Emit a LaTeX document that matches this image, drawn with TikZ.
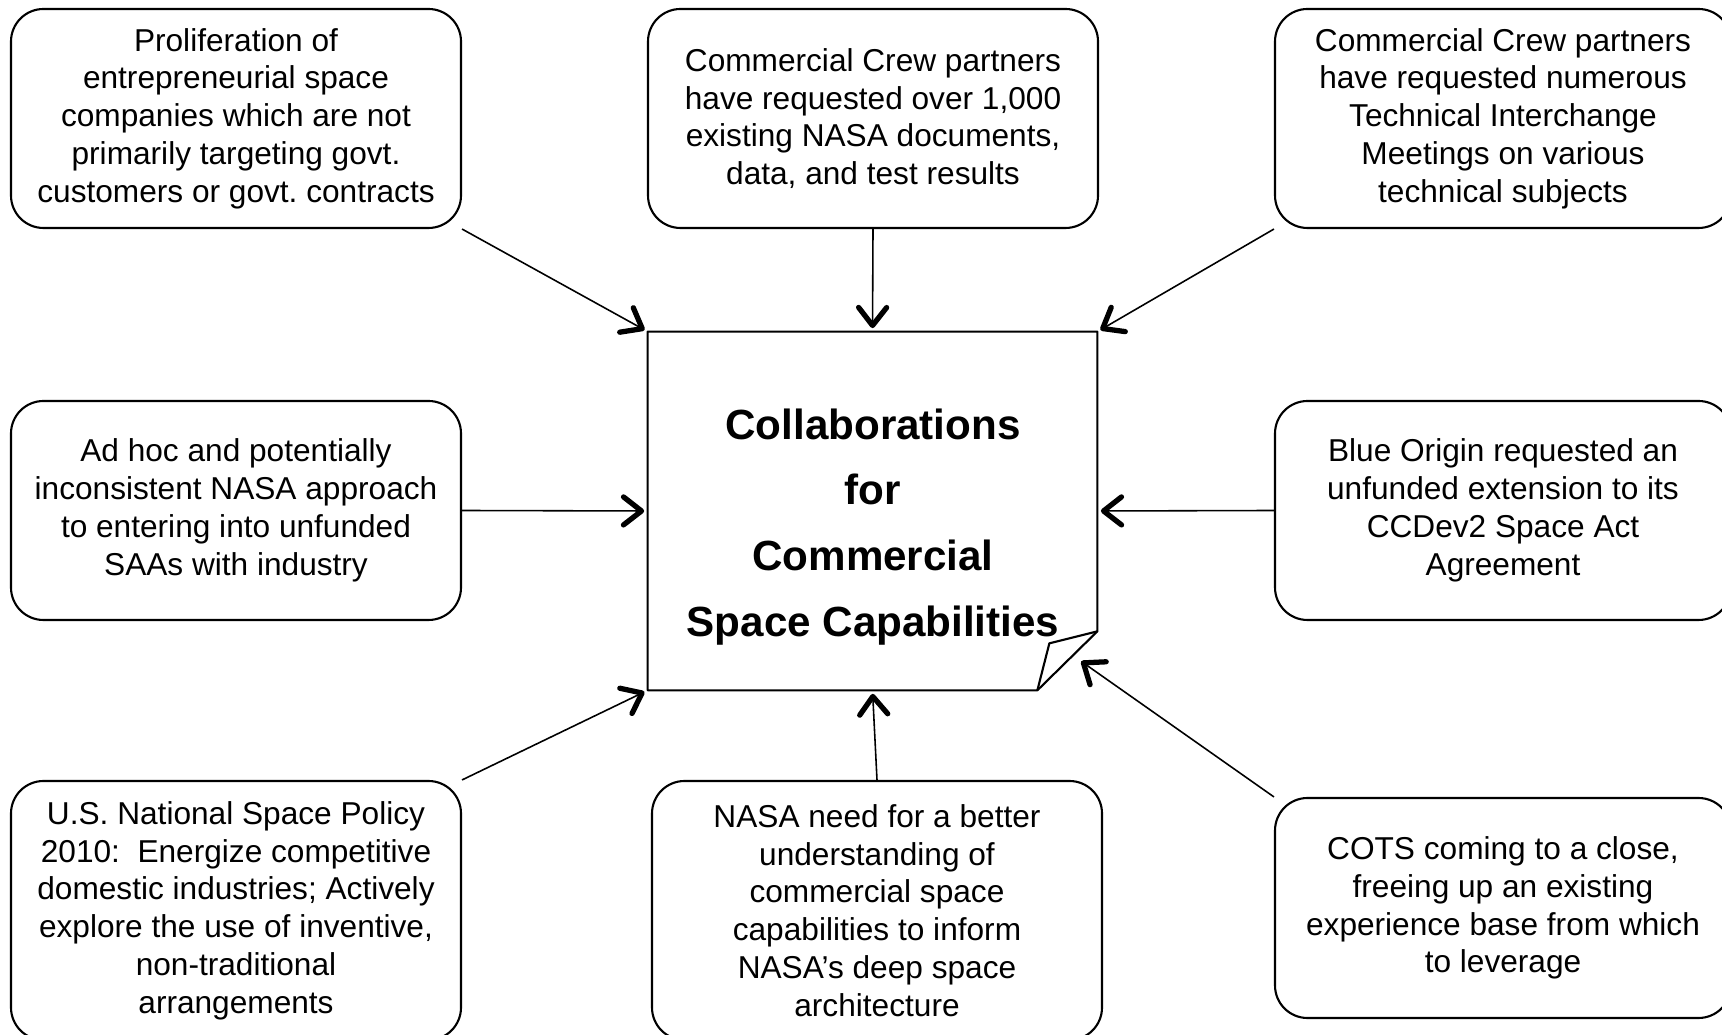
\documentclass[tikz,border=0pt]{standalone}
\usepackage{fontspec}
\setmainfont{Liberation Sans}
\usetikzlibrary{arrows.meta}
\frenchspacing

\begin{document}
\begin{tikzpicture}[
    box/.style={draw, rounded corners=0.65cm, line width=1.2pt, minimum width=9cm,
        minimum height=4.38cm, align=center, font=\fontsize{18}{21.5}\selectfont},
    wide/.style={box, minimum width=9.12cm},
    core/.style={minimum width=8.98cm, minimum height=7.16cm, inner sep=0pt},
    title/.style={align=center, font=\fontsize{24}{37.5}\selectfont\bfseries},
    sheet/.style={line width=1.2pt, line join=round},
    feed/.style={line width=0.9pt, shorten >=2pt,
        -{Straight Barb[length=0.36cm, width=0.56cm, line width=3pt, round]}}
]
    \useasboundingbox (0,0) rectangle (34.44,20.70);
    % nodes
    \node[core] (core) at (17.45,10.48) {};
    \node[title] (title) at (17.46,10.16) {Collaborations\\for\\Commercial\\Space Capabilities};
    \node[box] (tl) at (4.72,18.33) {Proliferation of\\entrepreneurial space\\companies which are not\\primarily targeting govt.\\customers or govt. contracts};
    \node[box] (tc) at (17.46,18.33) {Commercial Crew partners\\have requested over 1,000\\existing NASA documents,\\data, and test results};
    \node[wide] (tr) at (30.06,18.33) {Commercial Crew partners\\have requested numerous\\Technical Interchange\\Meetings on various\\technical subjects};
    \node[box] (ml) at (4.72,10.49) {Ad hoc and potentially\\inconsistent NASA approach\\to entering into unfunded\\SAAs with industry};
    \node[wide] (mr) at (30.06,10.49) {Blue Origin requested an\\unfunded extension to its\\CCDev2 Space Act\\Agreement};
    \node[box, minimum height=5.18cm] (bl) at (4.72,2.49) {U.S. National Space Policy\\2010:~ Energize competitive\\domestic industries; Actively\\explore the use of inventive,\\non-traditional\\arrangements};
    \node[box, minimum height=5.18cm] (bc) at (17.54,2.49) {NASA need for a better\\understanding of\\commercial space\\capabilities to inform\\NASA’s deep space\\architecture};
    \node[wide, minimum height=4.4cm] (br) at (30.06,2.54) {COTS coming to a close,\\freeing up an existing\\experience base from which\\to leverage};
    % folded sheet
    \draw[sheet] (core.north west) -- (core.north east) -- ([yshift=1.18cm]core.south east)
        -- ([xshift=-1.2cm]core.south east) -- (core.south west) -- cycle;
    \draw[sheet] ([yshift=1.18cm]core.south east) -- ([xshift=-0.96cm,yshift=0.94cm]core.south east)
        -- ([xshift=-1.2cm]core.south east);
    \coordinate (fold) at ([xshift=-0.38cm,yshift=0.62cm]core.south east);
    % edges
    \draw[feed] (tl.south east) -- (core.north west);
    \draw[feed] (tc.south) -- (core.north);
    \draw[feed] (tr.south west) -- (core.north east);
    \draw[feed] (ml.east) -- (core.west);
    \draw[feed] (mr.west) -- (core.east);
    \draw[feed] (bl.north east) -- (core.south west);
    \draw[feed] (bc.north) -- (core.south);
    \draw[feed] (br.north west) -- (fold);
\end{tikzpicture}
\end{document}
